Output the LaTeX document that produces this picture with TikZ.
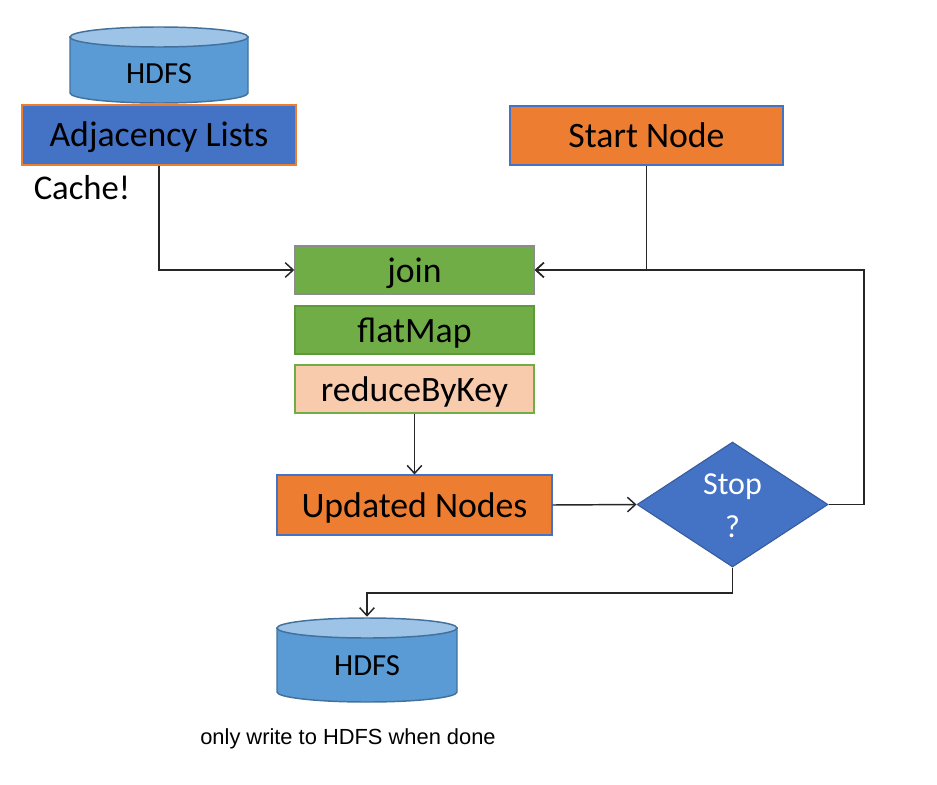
\documentclass[tikz,border=0pt]{standalone}
\usepackage{fontspec}
\setmainfont{Carlito}
\newfontfamily\capfont{Liberation Sans}
\usetikzlibrary{arrows.meta,shapes.geometric}
\definecolor{cblue}{HTML}{4472C4}
\definecolor{corange}{HTML}{ED7D31}
\definecolor{cgreen}{HTML}{70AD47}
\definecolor{cgreenline}{HTML}{5E9A3A}
\definecolor{cpeach}{HTML}{F8CBAD}
\definecolor{cylbody}{HTML}{5B9BD5}
\definecolor{cyltop}{HTML}{9DC3E6}
\definecolor{cylline}{HTML}{41719C}
\tikzset{
  box/.style={rectangle, inner sep=0pt, line width=1.1pt, font=\fontsize{26.8}{30}\selectfont, text=black, text height=18pt, text depth=0pt},
  conn/.style={line width=1.1pt, draw=black!85, -{Straight Barb[length=6pt,width=11pt,line width=1.1pt]}},
  cyl/.style={line width=1.1pt, draw=cylline},
}
\begin{document}
\begin{tikzpicture}[x=0.75pt,y=-0.75pt]
\useasboundingbox (0,0) rectangle (937,784);
% top cylinder
\filldraw[cyl, fill=cylbody] (70,37) -- (70,93) arc[start angle=180, end angle=0, x radius=89, y radius=10] -- (248,37) -- cycle;
\filldraw[cyl, fill=cyltop] (159,37) ellipse[x radius=89, y radius=10];
\node[font=\fontsize{23}{27}\selectfont] (hdfs1) at (159,74) {HDFS};
% adjacency lists
\node[box, fill=cblue, draw=corange, minimum width=274*0.75pt, minimum height=60*0.75pt] (adj) at (159,135) {Adjacency Lists};
\node[font=\fontsize{26}{30}\selectfont] (cache) at (82,188) {Cache!};
% start node
\node[box, fill=corange, draw=cblue, line width=0.8pt, minimum width=273*0.75pt, minimum height=59*0.75pt] (start) at (646.5,135.5) {Start Node};
% pipeline
\node[box, fill=cgreen, draw=black!45, minimum width=239*0.75pt, minimum height=48*0.75pt] (join) at (414.5,270) {join};
\node[box, fill=cgreen, draw=cgreenline, minimum width=239*0.75pt, minimum height=48*0.75pt] (flat) at (414.5,330) {flatMap};
\node[box, fill=cpeach, draw=cgreen, minimum width=239*0.75pt, minimum height=48*0.75pt] (reduce) at (414.5,389) {reduceByKey};
\node[box, fill=corange, draw=cblue, line width=0.8pt, minimum width=275*0.75pt, minimum height=60*0.75pt] (upd) at (414.5,505) {Updated Nodes};
% diamond
\node[diamond, fill=cblue, draw=cblue!80!black, line width=0.8pt, inner sep=0pt, minimum width=191*0.75pt, minimum height=125*0.75pt] (stop) at (732.5,504.5) {};
\node[font=\fontsize{24}{30}\selectfont, text=white, align=center] (stoptxt) at (732.5,506) {Stop\\[2pt]?};
% bottom cylinder
\node[minimum width=180*0.75pt, minimum height=85*0.75pt, inner sep=0pt] (db2) at (367,659.5) {};
\filldraw[cyl, fill=cylbody] (277,628) -- (277,692) arc[start angle=180, end angle=0, x radius=90, y radius=10] -- (457,628) -- cycle;
\filldraw[cyl, fill=cyltop] (367,628) ellipse[x radius=90, y radius=10];
\node[font=\fontsize{23}{27}\selectfont] (hdfs2) at (367,666) {HDFS};
\node[font=\capfont\fontsize{16.4}{20}\selectfont] (caption) at (348,739) {only write to HDFS when done};
% connectors
\coordinate (loop) at (864,504.5);
\coordinate (down) at (732.5,593);
\draw[conn] (adj.south) |- (join.west);
\draw[conn] (start.south) |- (join.east);
\draw[conn] (stop.east) -- (loop) |- (join.east);
\draw[conn] (reduce.south) -- (upd.north);
\draw[conn] (upd.east) -- (stop.west);
\draw[conn] (stop.south) -- (down) -| (db2.north);
\end{tikzpicture}
\end{document}
